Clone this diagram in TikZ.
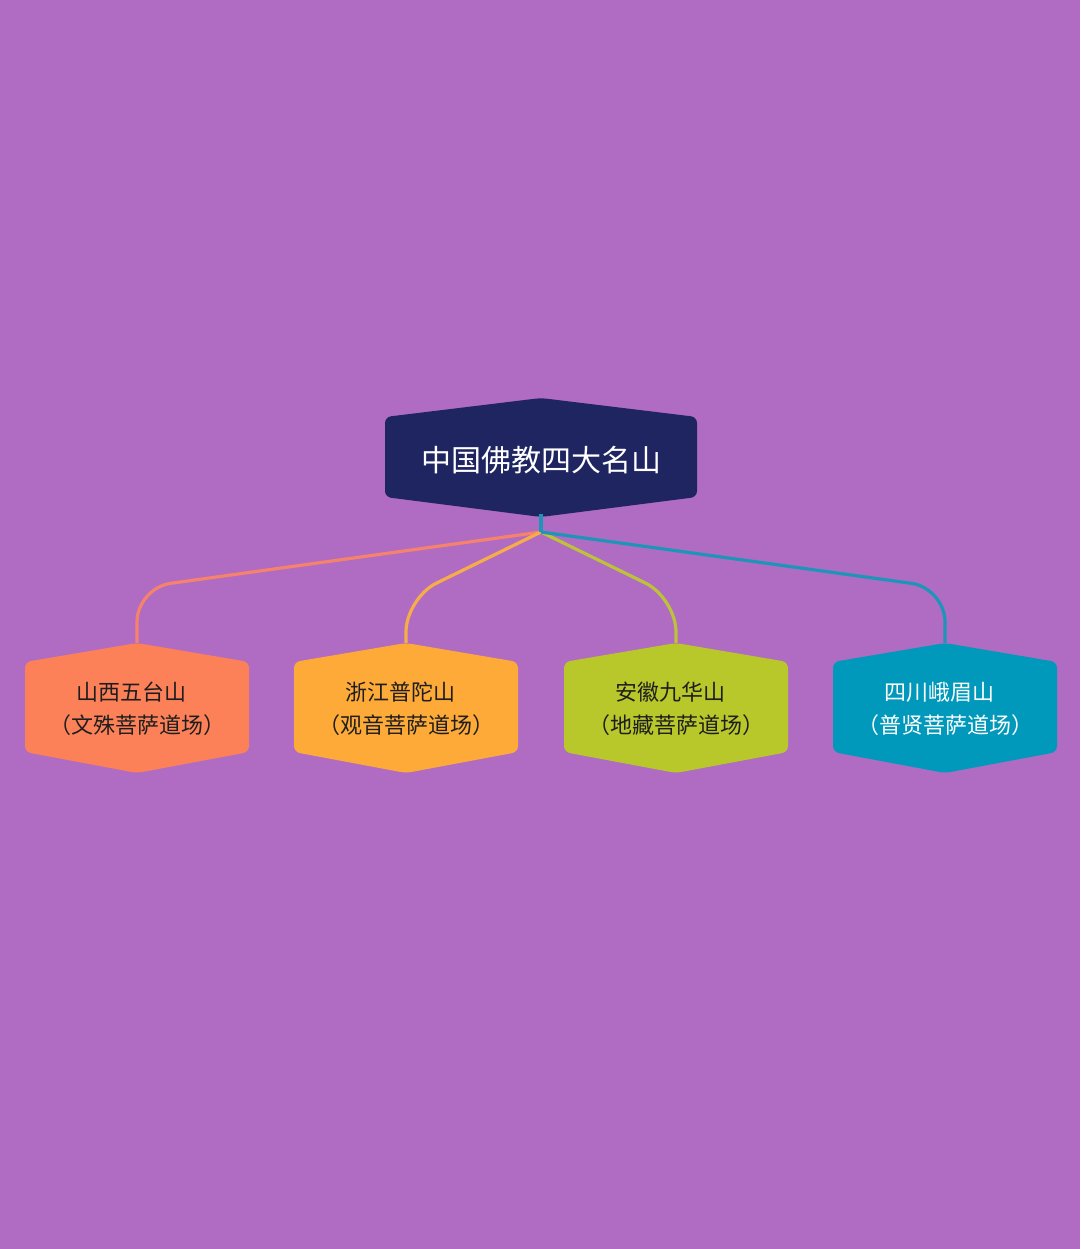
\documentclass[tikz,border=0pt]{standalone}
\usepackage{fontspec}
\setmainfont{Noto Sans CJK SC}
\begin{document}
\begin{tikzpicture}[x=1pt,y=-1pt,
  hexroot/.style={fill=rootc, rounded corners=6pt},
  hexkid/.style={rounded corners=6pt},
  link/.style={line width=3.2pt, rounded corners=34pt},
  kidtext/.style={align=center, font=\fontsize{22}{33}\selectfont, inner sep=0pt}]
\definecolor{bgc}{HTML}{B06CC2}
\definecolor{rootc}{HTML}{1F2561}
\definecolor{c1}{HTML}{FC8158}
\definecolor{c2}{HTML}{FEAA38}
\definecolor{c3}{HTML}{B8C72A}
\definecolor{c4}{HTML}{0099BB}
\definecolor{l1}{HTML}{F4826C}
\definecolor{l2}{HTML}{F6AC48}
\definecolor{l3}{HTML}{BCC23A}
\definecolor{l4}{HTML}{1C95B8}
\definecolor{tdark}{HTML}{1E1E1E}
\fill[bgc] (0,0) rectangle (1080,1249);
\useasboundingbox (0,0) rectangle (1080,1249);
% connectors
\coordinate (j) at (541,532);
\coordinate (k1) at (137,643);
\coordinate (k2) at (406,643);
\coordinate (k3) at (676,643);
\coordinate (k4) at (945,643);
\draw[link, l1] (j) -- (137,588) -- (k1);
\draw[link, l2] (j) -- (406,598) -- (k2);
\draw[link, l3] (j) -- (676,598) -- (k3);
\draw[link, l4] (j) -- (945,588) -- (k4);
% root
\fill[hexroot] (385,417) -- (541,398) -- (697,417) -- (697,497) -- (541,517) -- (385,497) -- cycle;
\draw[line width=3.2pt, l4] (541,514) -- (j);
\node[text=white, font=\fontsize{30}{34}\selectfont] (root) at (541,460) {中国佛教四大名山};
% children
\foreach \cx/\fc in {137/c1, 406/c2, 676/c3, 945/c4}{
  \fill[hexkid, fill=\fc] (\cx-112,662) -- (\cx,643) -- (\cx+112,662) -- (\cx+112,752) -- (\cx,773) -- (\cx-112,752) -- cycle;
}
\node[kidtext, text=tdark] (n1) at (137,709) {山西五台山\rule{11pt}{0pt}\\（文殊菩萨道场）};
\node[kidtext, text=tdark] (n2) at (406,709) {浙江普陀山\rule{11pt}{0pt}\\（观音菩萨道场）};
\node[kidtext, text=tdark] (n3) at (676,709) {安徽九华山\rule{11pt}{0pt}\\（地藏菩萨道场）};
\node[kidtext, text=white] (n4) at (945,709) {四川峨眉山\rule{11pt}{0pt}\\（普贤菩萨道场）};
\end{tikzpicture}
\end{document}
